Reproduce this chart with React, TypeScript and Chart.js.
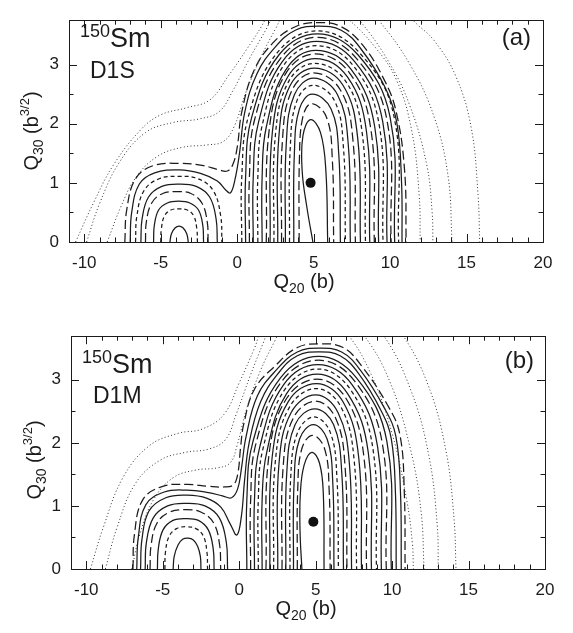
import { useEffect, useRef } from 'react';
import { Chart, registerables } from 'chart.js';
Chart.register(...registerables);

// ---------------- axes ----------------
const X_RANGE = [-11, 20];
const A_Y_RANGE = [0, 3.75];
const B_Y_RANGE = [0, 3.69];
const X_TICK_LABELS = [-10, -5, 0, 5, 10, 15, 20];
const Y_TICK_LABELS = [0, 1, 2, 3];

// ---------------- panel (a): 150Sm, D1S ----------------
const A_MINIMUM = [4.8, 1.0];
// closed contours around the deep minimum (innermost first), flat [x,y,...]
const A_MAIN_WELL = [
  [4.95, 0, 4.55, 0.6, 4.25, 1.2, 4.3, 1.8, 4.8, 2.07, 5.45, 1.85, 5.8, 1.2, 5.92, 0],
  [4.05, 0, 4.07, 1.40, 4.29, 2.11, 4.85, 2.34, 5.84, 2.11, 6.22, 1.40, 6.31, 0],
  [3.70, 0, 3.74, 1.50, 4.07, 2.25, 4.90, 2.50, 6.14, 2.25, 6.64, 1.50, 6.75, 0],
  [3.42, 0, 3.47, 1.59, 3.91, 2.39, 4.95, 2.65, 6.36, 2.39, 6.95, 1.59, 7.08, 0],
  [3.15, 0, 3.21, 1.66, 3.74, 2.49, 5.00, 2.77, 6.56, 2.49, 7.26, 1.66, 7.40, 0],
  [2.90, 0, 2.96, 1.72, 3.59, 2.57, 5.00, 2.86, 6.75, 2.57, 7.57, 1.72, 7.73, 0],
  [2.65, 0, 2.72, 1.76, 3.47, 2.65, 5.05, 2.94, 6.92, 2.65, 7.88, 1.76, 8.06, 0],
  [2.40, 0, 2.50, 1.81, 3.38, 2.72, 5.05, 3.02, 7.09, 2.72, 8.19, 1.81, 8.39, 0],
  [2.15, 0, 2.30, 1.86, 3.30, 2.79, 5.10, 3.10, 7.21, 2.79, 8.46, 1.86, 8.67, 0],
  [1.90, 0, 2.10, 1.91, 3.20, 2.86, 5.10, 3.18, 7.34, 2.86, 8.74, 1.91, 8.97, 0],
  [1.63, 0, 1.63, 1.1, 1.90, 1.94, 3.20, 2.92, 5.15, 3.24, 7.45, 2.92, 9.00, 1.94, 9.25, 0],
  [1.35, 0, 1.35, 1.1, 1.65, 1.99, 3.05, 2.99, 5.15, 3.32, 7.56, 2.99, 9.28, 1.99, 9.54, 0],
  [1.05, 0, 1.05, 1.1, 1.40, 2.03, 2.95, 3.05, 5.20, 3.39, 7.68, 3.05, 9.52, 2.03, 9.80, 0],
  [0.80, 0, 0.80, 1.1, 1.15, 2.08, 2.85, 3.11, 5.20, 3.46, 7.78, 3.11, 9.78, 2.08, 10.07, 0],
  [0.55, 0, 0.55, 1.1, 0.95, 2.11, 2.75, 3.17, 5.25, 3.52, 7.88, 3.17, 10.00, 2.11, 10.30, 0],
  [0.30, 0, 0.30, 1.1, 0.75, 2.14, 2.65, 3.21, 5.25, 3.57, 7.96, 3.21, 10.24, 2.14, 10.56, 0],
];
// closed contours around the secondary (left) minimum
const A_LEFT_WELL = [
  [-4.4, 0, -4.3, 0.14, -4.05, 0.24, -3.8, 0.27, -3.55, 0.24, -3.3, 0.14, -3.2, 0],
  [-5.0, 0, -4.96, 0.22, -4.76, 0.44, -4.34, 0.54, -3.8, 0.56, -3.26, 0.54, -2.84, 0.44, -2.64, 0.22, -2.6, 0],
  [-5.47, 0, -5.42, 0.28, -5.14, 0.54, -4.57, 0.66, -3.83, 0.69, -3.1, 0.66, -2.53, 0.54, -2.25, 0.28, -2.2, 0],
  [-6.0, 0, -5.94, 0.34, -5.59, 0.66, -4.87, 0.82, -3.95, 0.85, -3.03, 0.82, -2.31, 0.66, -1.96, 0.34, -1.9, 0],
  [-6.3, 0, -6.22, 0.39, -5.8, 0.76, -4.93, 0.94, -3.8, 0.98, -2.68, 0.94, -1.8, 0.76, -1.38, 0.39, -1.3, 0],
  [-6.65, 0, -6.56, 0.44, -6.09, 0.87, -5.1, 1.07, -3.83, 1.11, -2.56, 1.07, -1.57, 0.87, -1.08, 0.44, -1.0, 0],
];
// contours passing over the saddle and enclosing both wells
const A_SADDLE = [
  [-7.0, 0, -6.9, 0.5, -6.4, 0.98, -5.4, 1.17, -3.8, 1.22, -2.4, 1.16, -1.3, 1.03, -0.75, 0.88, -0.44, 0.83, -0.15, 1.05, 0.15, 1.5, 0.5, 2.2, 1.3, 2.85, 2.5, 3.3, 3.8, 3.58, 5.3, 3.65, 6.8, 3.58, 8.05, 3.28, 9.7, 2.6, 10.45, 2.0, 10.75, 1.0, 10.78, 0],
  [-7.35, 0, -7.22, 0.55, -6.65, 1.07, -5.5, 1.29, -3.8, 1.33, -2.2, 1.29, -1.2, 1.22, -0.65, 1.2, -0.3, 1.3, 0.0, 1.6, 0.3, 2.2, 1.1, 2.9, 2.35, 3.37, 3.8, 3.64, 5.3, 3.71, 6.8, 3.64, 8.17, 3.34, 9.6, 2.75, 10.4, 2.2, 10.95, 1.2, 11.05, 0],
];
// high-energy contours (leave the frame at the top)
const A_OUTER = [
  [-8.5, 0, -7.6, 0.6, -6.6, 1.1, -5.2, 1.45, -3.6, 1.6, -2.0, 1.64, -0.9, 1.7, -0.2, 1.95, 0.6, 2.55, 1.6, 3.15, 2.5, 3.6, 3.2, 3.9, 5.0, 4.2, 7.2, 3.78, 9.0, 3.3, 10.4, 2.75, 11.4, 1.9, 11.9, 0.8, 11.97, 0],
  [-9.85, 0, -9.0, 0.65, -7.7, 1.35, -6.0, 1.85, -4.2, 2.02, -2.5, 2.08, -1.2, 2.2, -0.3, 2.55, 0.8, 3.1, 1.9, 3.6, 2.6, 3.95, 5.0, 4.6, 7.9, 3.78, 9.9, 3.05, 11.3, 2.3, 12.4, 1.3, 12.75, 0.5, 12.8, 0],
  [-10.57, 0, -9.4, 0.66, -8.1, 1.3, -6.3, 1.9, -5.0, 2.15, -3.3, 2.27, -1.8, 2.4, -0.6, 2.8, 0.6, 3.25, 1.6, 3.65, 2.2, 3.95, 5.0, 5.0, 9.15, 3.78, 11.3, 3.0, 12.9, 2.1, 13.8, 1.1, 14.05, 0],
  [9.0, 4.6, 11.4, 3.78, 12.9, 3.4, 14.3, 2.8, 15.3, 1.94, 15.75, 0.8, 15.86, 0],
];

// ---------------- panel (b): 150Sm, D1M ----------------
const B_MINIMUM = [4.85, 0.75];
const B_MAIN_WELL = [
  [4.1, 0, 3.98, 0.6, 4.0, 1.2, 4.25, 1.65, 4.75, 1.85, 5.25, 1.68, 5.5, 1.2, 5.55, 0],
  [3.80, 0, 3.83, 1.27, 4.10, 1.91, 4.80, 2.12, 5.58, 1.91, 5.88, 1.27, 5.95, 0],
  [3.55, 0, 3.59, 1.37, 3.95, 2.06, 4.85, 2.29, 5.75, 2.06, 6.12, 1.37, 6.20, 0],
  [3.32, 0, 3.37, 1.45, 3.83, 2.17, 4.90, 2.41, 5.95, 2.17, 6.39, 1.45, 6.49, 0],
  [3.05, 0, 3.11, 1.52, 3.66, 2.29, 4.95, 2.54, 6.17, 2.29, 6.71, 1.52, 6.82, 0],
  [2.80, 0, 2.87, 1.60, 3.53, 2.39, 5.00, 2.66, 6.31, 2.39, 6.93, 1.60, 7.05, 0],
  [2.52, 0, 2.60, 1.66, 3.40, 2.48, 5.00, 2.76, 6.46, 2.48, 7.21, 1.66, 7.35, 0],
  [2.25, 0, 2.37, 1.72, 3.30, 2.57, 5.05, 2.86, 6.65, 2.57, 7.52, 1.72, 7.68, 0],
  [2.00, 0, 2.15, 1.76, 3.20, 2.65, 5.05, 2.94, 6.79, 2.65, 7.82, 1.76, 8.00, 0],
  [1.75, 0, 1.95, 1.81, 3.12, 2.71, 5.10, 3.01, 6.97, 2.71, 8.14, 1.81, 8.33, 0],
  [1.50, 0, 1.50, 1.1, 1.80, 1.85, 3.10, 2.78, 5.10, 3.09, 7.09, 2.78, 8.44, 1.85, 8.65, 0],
  [1.25, 0, 1.25, 1.1, 1.55, 1.90, 3.00, 2.85, 5.15, 3.17, 7.26, 2.85, 8.75, 1.90, 8.98, 0],
  [1.00, 0, 1.00, 1.1, 1.35, 1.94, 2.90, 2.92, 5.15, 3.24, 7.39, 2.92, 9.05, 1.94, 9.30, 0],
  [0.75, 0, 0.75, 1.1, 1.10, 1.99, 2.80, 2.98, 5.20, 3.31, 7.54, 2.98, 9.36, 1.99, 9.62, 0],
  [0.50, 0, 0.50, 1.1, 0.90, 2.02, 2.70, 3.03, 5.20, 3.37, 7.67, 3.03, 9.66, 2.02, 9.95, 0],
];
const B_LEFT_WELL = [
  [-4.32, 0, -4.25, 0.2, -4.0, 0.38, -3.7, 0.47, -3.35, 0.49, -3.0, 0.46, -2.72, 0.36, -2.54, 0.2, -2.5, 0],
  [-4.86, 0, -4.82, 0.27, -4.58, 0.52, -4.09, 0.64, -3.46, 0.67, -2.83, 0.64, -2.34, 0.52, -2.11, 0.27, -2.07, 0],
  [-5.35, 0, -5.29, 0.32, -4.98, 0.62, -4.33, 0.77, -3.5, 0.8, -2.67, 0.77, -2.02, 0.62, -1.7, 0.32, -1.64, 0],
  [-5.83, 0, -5.76, 0.38, -5.37, 0.73, -4.56, 0.9, -3.52, 0.94, -2.48, 0.9, -1.67, 0.73, -1.28, 0.38, -1.21, 0],
  [-6.15, 0, -6.07, 0.42, -5.62, 0.81, -4.68, 1.0, -3.46, 1.04, -2.24, 1.0, -1.3, 0.81, -0.84, 0.42, -0.76, 0],
];
const B_SADDLE = [
  [-6.45, 0, -6.36, 0.47, -5.9, 0.92, -4.8, 1.13, -3.4, 1.17, -2.1, 1.12, -1.2, 0.98, -0.6, 0.72, -0.15, 0.54, 0.15, 0.85, 0.35, 1.4, 0.65, 2.0, 1.4, 2.65, 2.55, 3.1, 3.8, 3.38, 5.25, 3.44, 6.6, 3.38, 7.8, 3.1, 9.3, 2.5, 9.95, 2.06, 10.22, 1.2, 10.27, 0],
  [-6.7, 0, -6.6, 0.5, -6.1, 1.02, -4.9, 1.22, -3.4, 1.25, -2.0, 1.21, -1.1, 1.16, -0.5, 1.13, -0.1, 1.27, 0.15, 1.6, 0.45, 2.1, 1.2, 2.75, 2.45, 3.16, 3.8, 3.44, 5.25, 3.5, 6.7, 3.44, 7.9, 3.16, 9.5, 2.55, 10.25, 2.1, 10.55, 1.2, 10.6, 0],
  [-6.95, 0, -6.85, 0.55, -6.3, 1.1, -5.0, 1.31, -3.4, 1.34, -2.0, 1.31, -1.0, 1.3, -0.4, 1.33, -0.1, 1.5, 0.1, 1.95, 0.3, 2.3, 1.0, 2.85, 2.35, 3.22, 3.8, 3.51, 5.3, 3.57, 6.8, 3.51, 8.0, 3.22, 9.7, 2.6, 10.5, 2.14, 10.8, 1.2, 10.85, 0],
];
const B_OUTER = [
  [-7.02, 0, -6.5, 0.55, -5.6, 1.1, -4.3, 1.45, -2.8, 1.57, -1.5, 1.6, -0.6, 1.68, -0.15, 1.95, 0.5, 2.55, 1.4, 3.15, 2.3, 3.6, 3.0, 3.9, 5.0, 4.2, 7.0, 3.75, 8.6, 3.1, 10.0, 2.15, 10.95, 1.1, 11.33, 0.4, 11.39, 0],
  [-8.75, 0, -8.0, 0.65, -6.8, 1.35, -5.2, 1.72, -3.5, 1.85, -2.0, 1.9, -0.9, 2.05, -0.2, 2.45, 0.7, 3.05, 1.6, 3.6, 2.2, 3.95, 5.0, 4.5, 8.0, 3.75, 9.8, 3.0, 11.2, 1.9, 11.9, 0.9, 12.09, 0],
  [-9.73, 0, -8.9, 0.65, -7.6, 1.45, -5.9, 1.95, -4.0, 2.15, -2.4, 2.22, -1.0, 2.45, 0.0, 2.95, 1.0, 3.5, 1.7, 3.9, 5.5, 4.8, 9.3, 3.75, 11.2, 2.85, 12.4, 1.8, 12.95, 0.7, 13.02, 0],
  [8.0, 4.5, 10.5, 3.78, 12.3, 2.95, 13.5, 1.9, 14.05, 0.8, 14.18, 0],
];

// ---------------- styles ----------------
type Kind = 'S' | 'L' | 'D' | 'P';
const INK = '#1b1b1b';
const FONT = '"Liberation Sans", Arial, Helvetica, sans-serif';
const STYLE: Record<Kind, { dash: number[]; width: number; color: string }> = {
  S: { dash: [], width: 1.25, color: INK },
  L: { dash: [9, 4], width: 1.25, color: INK },
  D: { dash: [4, 3], width: 1.25, color: INK },
  P: { dash: [1, 2.4], width: 1, color: '#333' },
};
const A_KINDS = { main: 'SLSDSLSDSLSDSLSD', left: 'SDSLSD', saddle: 'SL' };
const B_KINDS = { main: 'SLSDSLSDSLSDSLS', left: 'SDSLS', saddle: 'SSL' };

type Piece = { t: string; size: number; dy: number };

interface PanelCfg {
  height: number;
  padTop: number;
  axisH: number;
  axisW: number;
  padRight: number;
  yRange: number[];
  groups: { lines: number[][]; kinds: string }[];
  minimum: number[];
  labels: { pieces: Piece[]; x: number; y: number; align: 'left' | 'right' }[];
  xTitle: { x: number; y: number };
  yTitle: { x: number; y: number };
}

const PANELS: PanelCfg[] = [
  {
    height: 316, padTop: 6, axisH: 74, axisW: 69, padRight: 30, yRange: A_Y_RANGE,
    groups: [
      { lines: A_OUTER, kinds: 'PPPP' },
      { lines: A_SADDLE, kinds: A_KINDS.saddle },
      { lines: A_LEFT_WELL, kinds: A_KINDS.left },
      { lines: A_MAIN_WELL, kinds: A_KINDS.main },
    ],
    minimum: A_MINIMUM,
    labels: [
      { pieces: [{ t: '150', size: 18, dy: -10 }, { t: 'Sm', size: 27, dy: 0 }], x: 80, y: 47, align: 'left' },
      { pieces: [{ t: 'D1S', size: 23, dy: 0 }], x: 90, y: 78, align: 'left' },
      { pieces: [{ t: '(a)', size: 24, dy: 0 }], x: 531, y: 45, align: 'right' },
    ],
    xTitle: { x: 304, y: 288 },
    yTitle: { x: 38, y: 131 },
  },
  {
    height: 317, padTop: 20, axisH: 64, axisW: 71, padRight: 28, yRange: B_Y_RANGE,
    groups: [
      { lines: B_OUTER, kinds: 'PPPP' },
      { lines: B_SADDLE, kinds: B_KINDS.saddle },
      { lines: B_LEFT_WELL, kinds: B_KINDS.left },
      { lines: B_MAIN_WELL, kinds: B_KINDS.main },
    ],
    minimum: B_MINIMUM,
    labels: [
      { pieces: [{ t: '150', size: 18, dy: -10 }, { t: 'Sm', size: 27, dy: 0 }], x: 82, y: 57, align: 'left' },
      { pieces: [{ t: 'D1M', size: 23, dy: 0 }], x: 93, y: 87, align: 'left' },
      { pieces: [{ t: '(b)', size: 24, dy: 0 }], x: 534, y: 52, align: 'right' },
    ],
    xTitle: { x: 306, y: 299 },
    yTitle: { x: 41, y: 144 },
  },
];

function toPoints(flat: number[]) {
  const pts: { x: number; y: number }[] = [];
  for (let i = 0; i < flat.length; i += 2) pts.push({ x: flat[i], y: flat[i + 1] });
  return pts;
}

function drawPieces(ctx: CanvasRenderingContext2D, pieces: Piece[], x: number, y: number, align: 'left' | 'right' | 'center') {
  let total = 0;
  const widths = pieces.map((p) => {
    ctx.font = `${p.size}px ${FONT}`;
    const w = ctx.measureText(p.t).width;
    total += w;
    return w;
  });
  let cx = align === 'left' ? x : align === 'right' ? x - total : x - total / 2;
  ctx.textAlign = 'left';
  ctx.textBaseline = 'alphabetic';
  pieces.forEach((p, i) => {
    ctx.font = `${p.size}px ${FONT}`;
    ctx.fillText(p.t, cx, y + p.dy);
    cx += widths[i];
  });
}

function makeFramePlugin(cfg: PanelCfg) {
  return {
    id: 'frame',
    afterDatasetsDraw(chart: any) {
      const { ctx, chartArea: a, scales } = chart;
      ctx.save();
      ctx.strokeStyle = INK;
      ctx.lineWidth = 1;
      ctx.setLineDash([]);
      ctx.strokeRect(Math.round(a.left) + 0.5, Math.round(a.top) + 0.5, Math.round(a.right - a.left), Math.round(a.bottom - a.top));
      ctx.beginPath();
      for (const t of scales.x.ticks) {
        const v = t.value;
        if (Math.abs(v - Math.round(v)) > 1e-6) continue;
        const len = v % 5 === 0 ? 8 : 4.5;
        const px = Math.round(scales.x.getPixelForValue(v)) + 0.5;
        ctx.moveTo(px, a.bottom);
        ctx.lineTo(px, a.bottom - len);
        ctx.moveTo(px, a.top);
        ctx.lineTo(px, a.top + len);
      }
      for (const t of scales.y.ticks) {
        const v = t.value;
        if (Math.abs(v * 2 - Math.round(v * 2)) > 1e-6) continue;
        const len = Math.abs(v - Math.round(v)) < 1e-6 ? 8 : 4.5;
        const py = Math.round(scales.y.getPixelForValue(v)) + 0.5;
        ctx.moveTo(a.left, py);
        ctx.lineTo(a.left + len, py);
        ctx.moveTo(a.right, py);
        ctx.lineTo(a.right - len, py);
      }
      ctx.stroke();

      ctx.fillStyle = INK;
      for (const l of cfg.labels) drawPieces(ctx, l.pieces, l.x, l.y, l.align);

      drawPieces(ctx, [
        { t: 'Q', size: 20, dy: 0 },
        { t: '20', size: 14, dy: 5 },
        { t: ' (b)', size: 20, dy: 0 },
      ], cfg.xTitle.x, cfg.xTitle.y, 'center');

      ctx.save();
      ctx.translate(cfg.yTitle.x, cfg.yTitle.y);
      ctx.rotate(-Math.PI / 2);
      drawPieces(ctx, [
        { t: 'Q', size: 20, dy: 0 },
        { t: '30', size: 14, dy: 5 },
        { t: ' (b', size: 20, dy: 0 },
        { t: '3/2', size: 13, dy: -9 },
        { t: ')', size: 20, dy: 0 },
      ], 0, 0, 'center');
      ctx.restore();
      ctx.restore();
    },
  };
}

function buildChart(canvas: HTMLCanvasElement, cfg: PanelCfg) {
  const datasets: any[] = [];
  for (const g of cfg.groups) {
    g.lines.forEach((line, i) => {
      const st = STYLE[(g.kinds[i] || 'S') as Kind];
      datasets.push({
        data: toPoints(line),
        borderColor: st.color,
        borderWidth: st.width,
        borderDash: st.dash,
        borderCapStyle: 'butt',
        tension: 0.4,
        pointRadius: 0,
        fill: false,
      });
    });
  }
  datasets.push({
    data: [{ x: cfg.minimum[0], y: cfg.minimum[1] }],
    showLine: false,
    pointRadius: 5,
    pointBackgroundColor: '#111',
    pointBorderWidth: 0,
  });
  const tickFont = { family: FONT, size: 17 };
  return new Chart(canvas, {
    type: 'line',
    data: { datasets },
    options: {
      responsive: false,
      animation: false,
      devicePixelRatio: 1,
      layout: { padding: { top: cfg.padTop, right: cfg.padRight, bottom: 0, left: 0 } },
      plugins: { legend: { display: false }, tooltip: { enabled: false } },
      events: [],
      scales: {
        x: {
          type: 'linear',
          min: X_RANGE[0],
          max: X_RANGE[1],
          afterFit: (s: any) => { s.height = cfg.axisH; },
          grid: { display: false, drawTicks: false },
          border: { display: false },
          ticks: {
            stepSize: 1,
            autoSkip: false,
            maxRotation: 0,
            padding: 11,
            color: INK,
            font: tickFont,
            callback: (v: any) => (X_TICK_LABELS.includes(Number(v)) ? String(v) : ''),
          },
        },
        y: {
          type: 'linear',
          min: cfg.yRange[0],
          max: cfg.yRange[1],
          afterFit: (s: any) => { s.width = cfg.axisW; },
          grid: { display: false, drawTicks: false },
          border: { display: false },
          ticks: {
            stepSize: 0.5,
            autoSkip: false,
            padding: 10,
            color: INK,
            font: tickFont,
            callback: (v: any) => (Y_TICK_LABELS.includes(Number(v)) ? String(v) : ''),
          },
        },
      },
    } as any,
    plugins: [makeFramePlugin(cfg)],
  });
}

function Panel({ cfg }: { cfg: PanelCfg }) {
  const ref = useRef<HTMLCanvasElement>(null);
  useEffect(() => {
    if (!ref.current) return;
    const chart = buildChart(ref.current, cfg);
    return () => chart.destroy();
  }, [cfg]);
  return <canvas ref={ref} width={573} height={cfg.height} style={{ display: 'block', width: 573, height: cfg.height }} />;
}

export default function App() {
  return (
    <div style={{ position: 'absolute', left: 0, top: 0, width: 573, height: 633, background: '#fff' }}>
      {PANELS.map((p, i) => (
        <Panel key={i} cfg={p} />
      ))}
    </div>
  );
}
